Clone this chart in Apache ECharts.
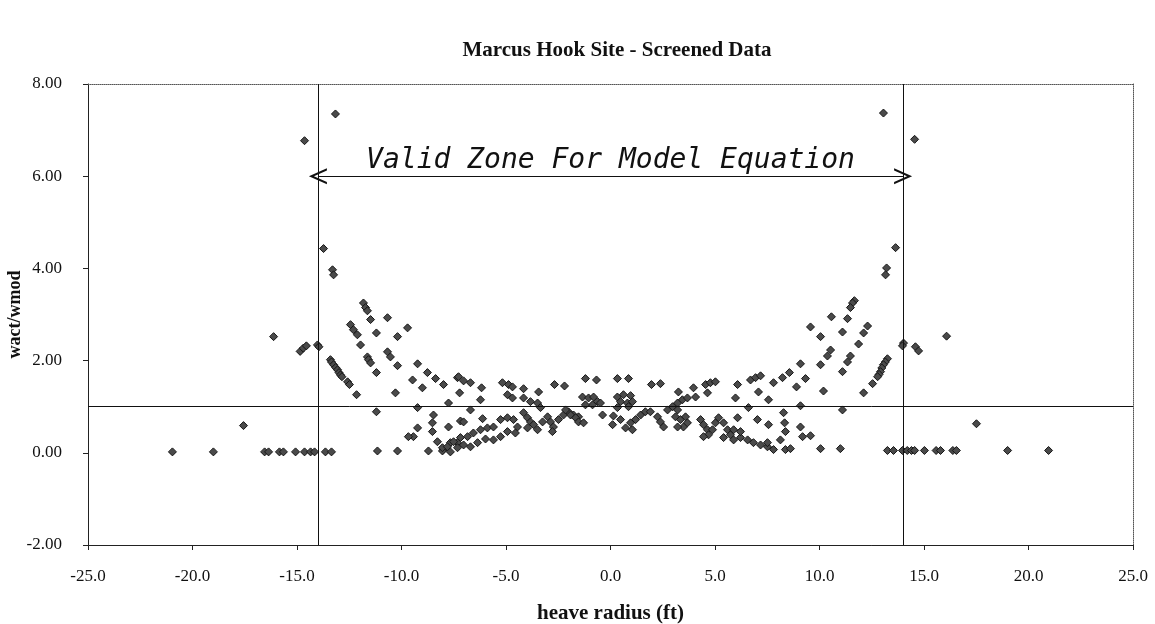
<!DOCTYPE html>
<html lang="en">
<head>
<meta charset="UTF-8">
<title>Marcus Hook Site - Screened Data</title>
<script src="https://cdn.jsdelivr.net/npm/echarts@6/dist/echarts.min.js"></script>
<style>
    html, body { margin: 0; padding: 0; background: #fff; }
    #chart { width: 1155px; height: 624px; }
</style>
</head>
<body>
<div id="chart"></div>
<script>
// heave radius (ft) vs wact/wmod
var leftOuter = [
    [-20.96, 0.02], [-19.00, 0.02], [-17.56, 0.59], [-16.12, 2.52],
    [-16.55, 0.02], [-16.36, 0.02], [-15.84, 0.02], [-15.65, 0.02], [-15.07, 0.02],
    [-14.64, 0.02], [-14.35, 0.02], [-14.16, 0.02],
    [-14.64, 6.77], [-14.85, 2.20], [-14.70, 2.27], [-14.55, 2.32]
];

var leftArcs = [
    [-14.02, 2.34], [-13.95, 2.30], [-13.64, 0.02], [-13.35, 0.02],
    [-13.16, 7.35], [-13.73, 4.43], [-13.30, 3.97], [-13.25, 3.86],
    [-11.82, 3.25], [-11.72, 3.15], [-11.63, 3.08],
    [-10.67, 2.93], [-11.48, 2.89],
    [-12.44, 2.78], [-12.30, 2.67], [-12.11, 2.56], [-11.96, 2.34],
    [-9.71, 2.71], [-11.20, 2.60], [-10.19, 2.52],
    [-10.67, 2.19], [-10.53, 2.08], [-10.19, 1.89],
    [-11.63, 2.08], [-11.58, 2.02], [-11.48, 1.95], [-11.20, 1.74],
    [-13.40, 2.02], [-13.35, 1.97], [-13.25, 1.91], [-13.15, 1.85], [-13.06, 1.80],
    [-12.99, 1.74], [-12.92, 1.69], [-12.85, 1.65], [-12.58, 1.54], [-12.49, 1.48], [-12.15, 1.26],
    [-9.23, 1.93], [-8.76, 1.74], [-8.37, 1.61], [-7.99, 1.48], [-7.32, 1.63],
    [-9.47, 1.58], [-9.00, 1.41], [-10.29, 1.30],
    [-11.20, 0.89], [-9.23, 0.98], [-7.75, 1.08],
    [-8.47, 0.82], [-8.52, 0.65], [-8.52, 0.46], [-7.75, 0.56],
    [-9.23, 0.54], [-9.43, 0.35], [-9.67, 0.35],
    [-8.28, 0.24], [-7.99, 0.07], [-7.66, 0.22], [-7.32, 0.22],
    [-8.71, 0.04], [-11.15, 0.04], [-10.19, 0.04], [-8.04, 0.04]
];

var centerBand = [
    [-7.27, 1.65], [-7.03, 1.56], [-6.70, 1.52], [-6.17, 1.41], [-7.22, 1.30], [-6.22, 1.15],
    [-5.17, 1.52], [-4.88, 1.48], [-4.69, 1.43], [-4.93, 1.26], [-4.69, 1.19], [-4.16, 1.39], [-3.44, 1.32],
    [-2.68, 1.48], [-2.20, 1.45], [-4.16, 1.19], [-3.83, 1.11], [-3.49, 1.08],
    [-6.70, 0.93], [-7.18, 0.69], [-7.03, 0.67], [-6.12, 0.74], [-8.04, 0.11],
    [-7.80, 0.13], [-7.51, 0.24], [-7.18, 0.33], [-6.84, 0.35], [-6.56, 0.43], [-6.22, 0.50],
    [-5.89, 0.54], [-5.60, 0.56], [-5.26, 0.72], [-4.93, 0.76], [-4.64, 0.72], [-4.45, 0.56],
    [-4.55, 0.43], [-4.93, 0.46], [-5.26, 0.35], [-5.60, 0.28], [-5.98, 0.30], [-6.36, 0.22],
    [-6.70, 0.13], [-7.03, 0.17], [-7.32, 0.11], [-7.66, 0.02],
    [-4.16, 0.87], [-3.97, 0.76], [-3.83, 0.67], [-3.68, 0.61], [-3.49, 0.50], [-3.97, 0.54],
    [-3.25, 0.67], [-3.01, 0.78], [-2.87, 0.67], [-2.73, 0.56], [-2.78, 0.46], [-2.49, 0.72],
    [-2.25, 0.82], [-2.01, 0.89], [-1.77, 0.82], [-1.53, 0.78], [-3.35, 0.98],
    [-1.20, 1.61], [-0.67, 1.58], [0.33, 1.61], [0.86, 1.61], [1.96, 1.48], [2.39, 1.50],
    [-1.34, 1.21], [-1.05, 1.19], [-0.81, 1.21], [-0.62, 1.11], [-0.86, 1.04], [-0.48, 1.08],
    [0.33, 1.21], [0.62, 1.26], [0.96, 1.24], [0.48, 1.11], [0.81, 1.08], [1.05, 1.11],
    [-1.20, 1.04], [-0.38, 0.82], [0.14, 0.80], [0.33, 0.98], [0.86, 1.00],
    [-2.15, 0.93], [-1.91, 0.82], [-1.67, 0.76], [-1.53, 0.67], [-1.29, 0.65],
    [0.96, 0.65], [1.20, 0.72], [1.44, 0.82], [1.67, 0.89], [0.48, 0.72], [0.72, 0.54], [1.05, 0.50], [0.10, 0.61],
    [1.91, 0.89], [2.25, 0.78], [2.39, 0.67], [2.54, 0.56],
    [2.73, 0.93], [2.97, 1.00], [3.21, 1.08], [3.44, 1.15], [3.21, 0.93], [3.11, 0.78],
    [3.35, 0.72], [3.59, 0.78], [3.68, 0.65], [3.49, 0.56], [3.21, 0.56],
    [3.25, 1.32], [3.68, 1.19], [3.97, 1.41], [4.07, 1.21], [4.55, 1.48], [4.78, 1.52], [5.02, 1.54], [4.64, 1.30],
    [4.31, 0.72], [4.45, 0.61], [4.64, 0.50], [4.69, 0.39], [4.88, 0.50], [5.02, 0.65], [5.17, 0.76],
    [5.41, 0.65], [5.60, 0.50], [5.74, 0.39], [5.89, 0.28], [6.22, 0.33], [6.56, 0.28], [6.84, 0.22],
    [7.18, 0.17], [7.51, 0.13], [7.80, 0.07], [4.45, 0.35], [5.41, 0.33], [5.89, 0.50], [6.22, 0.46],
    [6.08, 1.48], [6.70, 1.58], [6.94, 1.63], [7.18, 1.67], [7.08, 1.32], [5.98, 1.19], [7.80, 1.52], [7.56, 1.15],
    [6.08, 0.76], [7.03, 0.72], [7.56, 0.61], [6.60, 0.98]
];

var rightArcs = [
    [11.67, 3.30], [11.58, 3.25], [11.48, 3.15], [10.57, 2.95], [11.34, 2.91], [9.57, 2.73],
    [12.30, 2.75], [12.11, 2.60], [11.87, 2.36], [11.10, 2.62], [10.05, 2.52],
    [10.53, 2.23], [10.38, 2.10], [10.05, 1.91], [11.48, 2.10], [11.34, 1.97], [11.10, 1.76],
    [13.25, 2.04], [13.15, 1.97], [13.06, 1.91], [12.98, 1.84], [12.92, 1.76], [12.85, 1.70],
    [12.78, 1.65], [12.54, 1.50], [12.11, 1.30],
    [9.09, 1.93], [8.56, 1.74], [8.23, 1.63],
    [9.33, 1.61], [8.90, 1.43], [10.19, 1.34], [9.09, 1.02], [11.10, 0.93],
    [8.28, 0.87], [8.33, 0.65], [8.37, 0.46], [8.13, 0.28], [8.37, 0.07],
    [9.09, 0.56], [9.19, 0.35], [9.57, 0.37], [7.51, 0.22], [8.61, 0.09], [10.05, 0.09], [11.00, 0.09],
    [13.25, 0.05], [13.54, 0.05], [13.97, 0.05],
    [13.06, 7.37], [13.64, 4.45], [13.21, 4.01], [13.16, 3.86]
];

var rightOuter = [
    [14.55, 6.80], [14.02, 2.38], [13.97, 2.32], [14.59, 2.30], [14.74, 2.21], [16.08, 2.53], [17.51, 0.63],
    [14.20, 0.05], [14.40, 0.05], [14.55, 0.05], [15.02, 0.05], [15.58, 0.05], [15.79, 0.05],
    [16.38, 0.05], [16.55, 0.05], [19.00, 0.05], [20.96, 0.05]
];

var zoneEdges = [-14, 14];
var modelRatio = 1;
var arrowLevel = 6;
var zoneNote = 'Valid Zone For Model Equation';

var serif = '"Liberation Serif", "Times New Roman", serif';
var chart = echarts.init(document.getElementById('chart'));

var allPoints = [].concat(leftOuter, leftArcs, centerBand, rightArcs, rightOuter);

// open "v" arrow head, tip at the top so echarts turns it along the line
var chevron = 'path://M0,10 L5,0 L10,10 L8.6,10 L5,2.8 L1.4,10 Z';

chart.setOption({
    animation: false,
    title: {
        text: 'Marcus Hook Site - Screened Data',
        left: 612,
        textAlign: 'center',
        top: 35,
        textStyle: { fontFamily: serif, fontSize: 21, fontWeight: 'bold', color: '#111' }
    },
    grid: { left: 88, right: 22, top: 84, bottom: 79, outerBoundsMode: 'none', containLabel: false },
    xAxis: [{
        type: 'value',
        min: -25, max: 25, interval: 5,
        name: 'heave radius (ft)',
        nameLocation: 'middle',
        nameGap: 58,
        nameMoveOverlap: false,
        nameTextStyle: { fontFamily: serif, fontSize: 21, fontWeight: 'bold', color: '#111' },
        axisLine: { onZero: false, lineStyle: { color: '#222', width: 1 } },
        axisTick: { show: true, length: 5, lineStyle: { color: '#222' } },
        axisLabel: {
            margin: 23,
            fontFamily: serif, fontSize: 17, color: '#111',
            formatter: function (v) { return v.toFixed(1); }
        },
        splitLine: { show: false }
    }, {
        type: 'value',
        position: 'top',
        min: -25, max: 25,
        axisLine: { show: true, onZero: false, lineStyle: { color: '#555', type: 'dotted' } },
        axisTick: { show: false },
        axisLabel: { show: false },
        splitLine: { show: false }
    }],
    yAxis: [{
        type: 'value',
        min: -2, max: 8, interval: 2,
        name: 'wact/wmod',
        nameLocation: 'middle',
        nameRotate: 90,
        nameGap: 64,
        nameMoveOverlap: false,
        nameTextStyle: { fontFamily: serif, fontSize: 18, fontWeight: 'bold', color: '#111' },
        axisLine: { show: true, onZero: false, lineStyle: { color: '#222', width: 1 } },
        axisTick: { show: true, length: 5, lineStyle: { color: '#222' } },
        axisLabel: {
            margin: 26,
            fontFamily: serif, fontSize: 17, color: '#111',
            formatter: function (v) { return v.toFixed(2); }
        },
        splitLine: { show: false }
    }, {
        type: 'value',
        position: 'right',
        min: -2, max: 8,
        axisLine: { show: true, onZero: false, lineStyle: { color: '#555', type: 'dotted' } },
        axisTick: { show: false },
        axisLabel: { show: false },
        splitLine: { show: false }
    }],
    series: [{
        name: 'Screened Data',
        type: 'scatter',
        symbol: 'diamond',
        symbolSize: 8,
        itemStyle: { color: '#4a4a4a', borderColor: '#151515', borderWidth: 1, opacity: 1 },
        data: allPoints,
        markLine: {
            silent: true,
            symbol: 'none',
            label: { show: false },
            lineStyle: { color: '#111', width: 1, type: 'solid' },
            data: [
                { xAxis: zoneEdges[0] },
                { xAxis: zoneEdges[1] },
                { yAxis: modelRatio }
            ]
        }
    }, {
        name: 'zone',
        type: 'scatter',
        data: [],
        markLine: {
            silent: true,
            symbol: [chevron, chevron],
            symbolSize: [16, 18],
            lineStyle: { color: '#111', width: 1.2, type: 'solid' },
            label: {
                show: true,
                position: 'middle',
                distance: 1,
                formatter: zoneNote,
                fontFamily: '"DejaVu Sans Mono", monospace',
                fontStyle: 'italic',
                fontSize: 28,
                color: '#111'
            },
            data: [[
                { coord: [zoneEdges[0], arrowLevel] },
                { coord: [zoneEdges[1], arrowLevel] }
            ]]
        }
    }]
});
</script>
</body>
</html>
